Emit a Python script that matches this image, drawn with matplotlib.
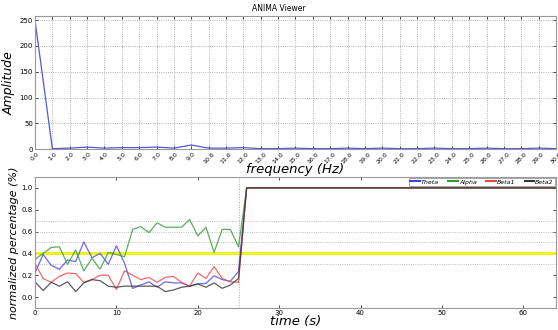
import matplotlib.pyplot as plt

# spectrum (top panel)
freqs = list(range(31))
amplitude = [250, 1, 2, 4, 2, 3, 3, 4, 2, 8, 2, 2, 3, 1, 1, 2, 1, 1, 2, 1,
             2, 1, 1, 2, 1, 1, 2, 1, 1, 2, 1]
freq_labels = ['%.1f' % f for f in freqs]

# band powers (bottom panel)
times = list(range(27)) + [64]
theta = [0.22, 0.39, 0.29, 0.255, 0.34, 0.325, 0.505, 0.36, 0.40, 0.30, 0.47, 0.31, 0.08,
         0.11, 0.14, 0.09, 0.14, 0.13, 0.13, 0.10, 0.12, 0.125, 0.195, 0.16, 0.145, 0.235,
         1.0, 1.0]
alpha = [0.345, 0.40, 0.455, 0.46, 0.30, 0.43, 0.24, 0.355, 0.255, 0.41, 0.39, 0.37, 0.62,
         0.645, 0.59, 0.68, 0.64, 0.64, 0.64, 0.71, 0.56, 0.64, 0.41, 0.62, 0.62, 0.46,
         1.0, 1.0]
beta1 = [0.31, 0.17, 0.135, 0.19, 0.22, 0.215, 0.135, 0.16, 0.20, 0.20, 0.07, 0.24, 0.20,
         0.16, 0.18, 0.135, 0.18, 0.19, 0.135, 0.10, 0.22, 0.17, 0.28, 0.17, 0.14, 0.135,
         1.0, 1.0]
beta2 = [0.14, 0.06, 0.135, 0.10, 0.14, 0.05, 0.13, 0.16, 0.15, 0.10, 0.09, 0.10, 0.10,
         0.10, 0.10, 0.10, 0.05, 0.065, 0.09, 0.10, 0.12, 0.09, 0.13, 0.08, 0.11, 0.17,
         1.0, 1.0]
threshold = 0.4
marker_time = 25
ref_levels = [0.3, 0.5, 0.6, 0.7]

fig = plt.figure(figsize=(5.58, 3.30), dpi=100)
fig.text(0.5, 0.975, 'ANIMA Viewer', ha='center', va='center', fontsize=5.5)

# top: spectrum
ax1 = fig.add_axes([0.0627, 0.548, 0.9337, 0.4035])
ax1.plot(freqs, amplitude, color='#5555dd', lw=0.9)
ax1.set_xlim(0, 30)
ax1.set_ylim(0, 258)
ax1.set_xticks(freqs)
ax1.set_xticklabels(freq_labels, rotation=45, fontsize=4.5)
ax1.set_yticks([0, 50, 100, 150, 200, 250])
ax1.tick_params(axis='y', labelsize=5)
ax1.tick_params(direction='in', top=True, right=True, length=2, width=0.5, pad=1.5)
ax1.grid(True, linestyle=':', color='#999999', lw=0.6)
ax1.set_xlabel('frequency (Hz)', style='italic', fontsize=9.5, labelpad=-1)
ax1.set_ylabel('Amplitude', style='italic', fontsize=9, labelpad=3)
for s in ax1.spines.values():
    s.set_color('#999999')
    s.set_linewidth(0.8)

# bottom: band percentages
ax2 = fig.add_axes([0.0627, 0.0667, 0.9337, 0.397])
for lvl in ref_levels:
    ax2.axhline(lvl, color='#aaaaaa', linestyle=':', lw=0.6)
ax2.axvline(marker_time, color='#aaaaaa', linestyle=':', lw=0.7)
ax2.axhline(threshold, color='#f0f020', lw=2.2)
ax2.plot(times, theta, color='#4444ee', lw=0.9, alpha=0.8, label='Theta')
ax2.plot(times, alpha, color='#339933', lw=0.9, alpha=0.8, label='Alpha')
ax2.plot(times, beta1, color='#ee4444', lw=0.9, alpha=0.8, label='Beta1')
ax2.plot(times, beta2, color='#333333', lw=0.9, alpha=0.8, label='Beta2')
ax2.set_xlim(0, 64)
ax2.set_ylim(-0.1, 1.1)
ax2.set_xticks([0, 10, 20, 30, 40, 50, 60])
ax2.set_yticks([0.0, 0.2, 0.4, 0.6, 0.8, 1.0])
ax2.tick_params(labelsize=5)
ax2.tick_params(direction='in', top=True, right=True, length=2, width=0.5, pad=1.5)
ax2.set_xlabel('time (s)', style='italic', fontsize=9.5, labelpad=-1)
ax2.set_ylabel('normalized percentage (%)', style='italic', fontsize=8, labelpad=2)
for s in ax2.spines.values():
    s.set_color('#999999')
    s.set_linewidth(0.8)
leg = ax2.legend(loc='upper right', ncol=4, prop={'size': 4.5, 'style': 'italic'},
                 handlelength=1.5, handletextpad=0.2, columnspacing=1.5,
                 borderpad=0.2, borderaxespad=0.15, fancybox=False, framealpha=1)
leg.get_frame().set_edgecolor('#999999')
leg.get_frame().set_linewidth(0.6)
for h in leg.legend_handles:
    h.set_linewidth(1.5)
    h.set_alpha(1)

fig.savefig('out.png', dpi=100)
